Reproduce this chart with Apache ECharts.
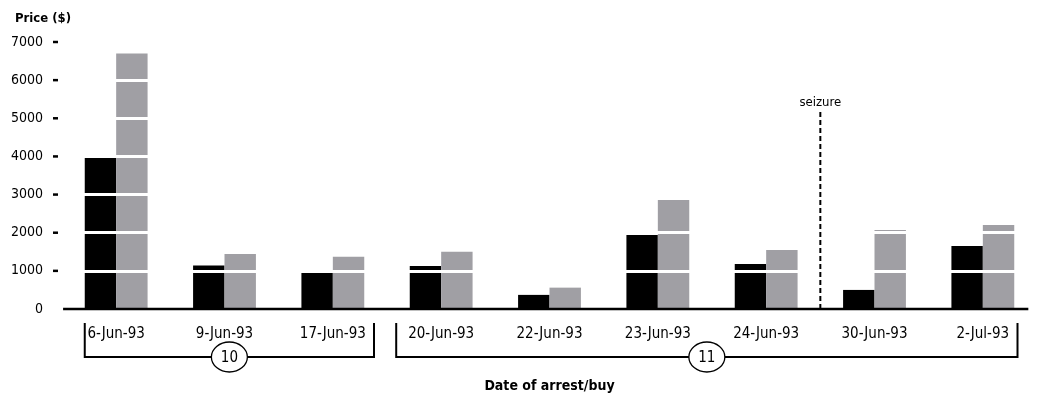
<!DOCTYPE html>
<html>
<head>
<meta charset="utf-8">
<title>Price by date of arrest/buy</title>
<script src="https://cdn.jsdelivr.net/npm/echarts@6/dist/echarts.min.js"></script>
<style>
  html, body { margin: 0; padding: 0; background: #fff; }
  #main { width: 1037px; height: 399px; }
</style>
</head>
<body>
<div id="main"></div>
<script>
var dates = ['6-Jun-93', '9-Jun-93', '17-Jun-93', '20-Jun-93', '22-Jun-93', '23-Jun-93', '24-Jun-93', '30-Jun-93', '2-Jul-93'];
var blackPrice = [4000, 1140, 970, 1130, 370, 1940, 1180, 500, 1650];
var greyPrice = [6700, 1440, 1370, 1500, 560, 2860, 1550, 2070, 2200];
var yTicks = [0, 1000, 2000, 3000, 4000, 5000, 6000, 7000];
// groups under the axis: [from, to, label] in category units
var groups = [[0.21, 2.88, '10'], [3.085, 8.82, '11']];
// seizure marker: [position between categories, height]
var seizure = [[7, 5200]];
var baseline = [[0.01, 8.92]];

var font = "'DejaVu Sans Condensed', 'Liberation Sans', sans-serif";
var myChart = echarts.init(document.getElementById('main'));

var option = {
    animation: false,
    textStyle: { fontFamily: font, color: '#000' },
    title: {
        text: 'Price ($)',
        left: 10, top: 7,
        textStyle: { fontFamily: font, fontSize: 13, fontWeight: 'bold', color: '#000' }
    },
    grid: { left: 62, width: 977, top: 42, height: 267 },
    xAxis: [{
        type: 'category',
        data: dates,
        axisLine: { show: false },
        axisTick: { show: false },
        axisLabel: { fontSize: 15, margin: 18, color: '#000', interval: 0 },
        name: 'Date of arrest/buy',
        nameLocation: 'middle',
        nameGap: 70,
        nameTextStyle: { fontSize: 14, fontWeight: 'bold', color: '#000' }
    }, {
        type: 'value', min: 0, max: 9, show: false
    }],
    yAxis: {
        type: 'value',
        min: 0, max: 7000, interval: 1000,
        z: 5,
        axisLine: { show: false },
        axisTick: { show: false },
        axisLabel: {
            fontSize: 14, margin: 19, color: '#000', customValues: yTicks,
            formatter: function (v) { return String(v); }
        },
        splitLine: { show: true, lineStyle: { color: '#fff', width: 3 } }
    },
    series: [{
        name: 'black', type: 'bar', data: blackPrice,
        barGap: 0, barCategoryGap: '42%',
        itemStyle: { color: '#000' }
    }, {
        name: 'grey', type: 'bar', data: greyPrice,
        itemStyle: { color: '#a09fa4' }
    }, {
        // small tick dashes left of the plot (no tick at 0)
        type: 'custom', xAxisIndex: 1, z: 10, silent: true,
        data: yTicks.slice(1),
        renderItem: function (params, api) {
            var p = api.coord([0, api.value(0)]);
            return {
                type: 'line',
                shape: { x1: p[0] - 9, y1: p[1], x2: p[0] - 4, y2: p[1] },
                style: { stroke: '#000', lineWidth: 2.5 }
            };
        }
    }, {
        // axis line
        type: 'custom', xAxisIndex: 1, z: 10, silent: true,
        data: baseline,
        renderItem: function (params, api) {
            var a = api.coord([api.value(0), 0]);
            var b = api.coord([api.value(1), 0]);
            return {
                type: 'line',
                shape: { x1: a[0], y1: a[1], x2: b[0], y2: b[1] },
                style: { stroke: '#000', lineWidth: 2.5 }
            };
        }
    }, {
        // seizure line
        type: 'custom', xAxisIndex: 1, z: 10, silent: true,
        data: seizure,
        renderItem: function (params, api) {
            var a = api.coord([api.value(0), 0]);
            var b = api.coord([api.value(0), api.value(1)]);
            return {
                type: 'group',
                children: [{
                    type: 'line',
                    shape: { x1: a[0], y1: a[1], x2: b[0], y2: b[1] },
                    style: { stroke: '#000', lineWidth: 2, lineDash: [5, 3] }
                }, {
                    type: 'text',
                    x: b[0], y: b[1] - 2,
                    style: {
                        text: 'seizure', fontFamily: font, fontSize: 13,
                        fill: '#000', align: 'center', verticalAlign: 'bottom'
                    }
                }]
            };
        }
    }, {
        // brackets with group numbers
        type: 'custom', xAxisIndex: 1, z: 10, silent: true,
        data: groups,
        renderItem: function (params, api) {
            var g = groups[params.dataIndex];
            var a = api.coord([g[0], 0]);
            var b = api.coord([g[1], 0]);
            var top = a[1] + 14, bot = a[1] + 48;
            var cx = (a[0] + b[0]) / 2;
            return {
                type: 'group',
                children: [{
                    type: 'polyline',
                    shape: { points: [[a[0], top], [a[0], bot], [b[0], bot], [b[0], top]] },
                    style: { stroke: '#000', lineWidth: 2, fill: null }
                }, {
                    type: 'ellipse',
                    shape: { cx: cx, cy: bot, rx: 18, ry: 15 },
                    style: { stroke: '#000', lineWidth: 1.3, fill: '#fff' }
                }, {
                    type: 'text',
                    x: cx, y: bot + 1,
                    style: {
                        text: g[2], fontFamily: font, fontSize: 15,
                        fill: '#000', align: 'center', verticalAlign: 'middle'
                    }
                }]
            };
        }
    }]
};

myChart.setOption(option);
</script>
</body>
</html>
